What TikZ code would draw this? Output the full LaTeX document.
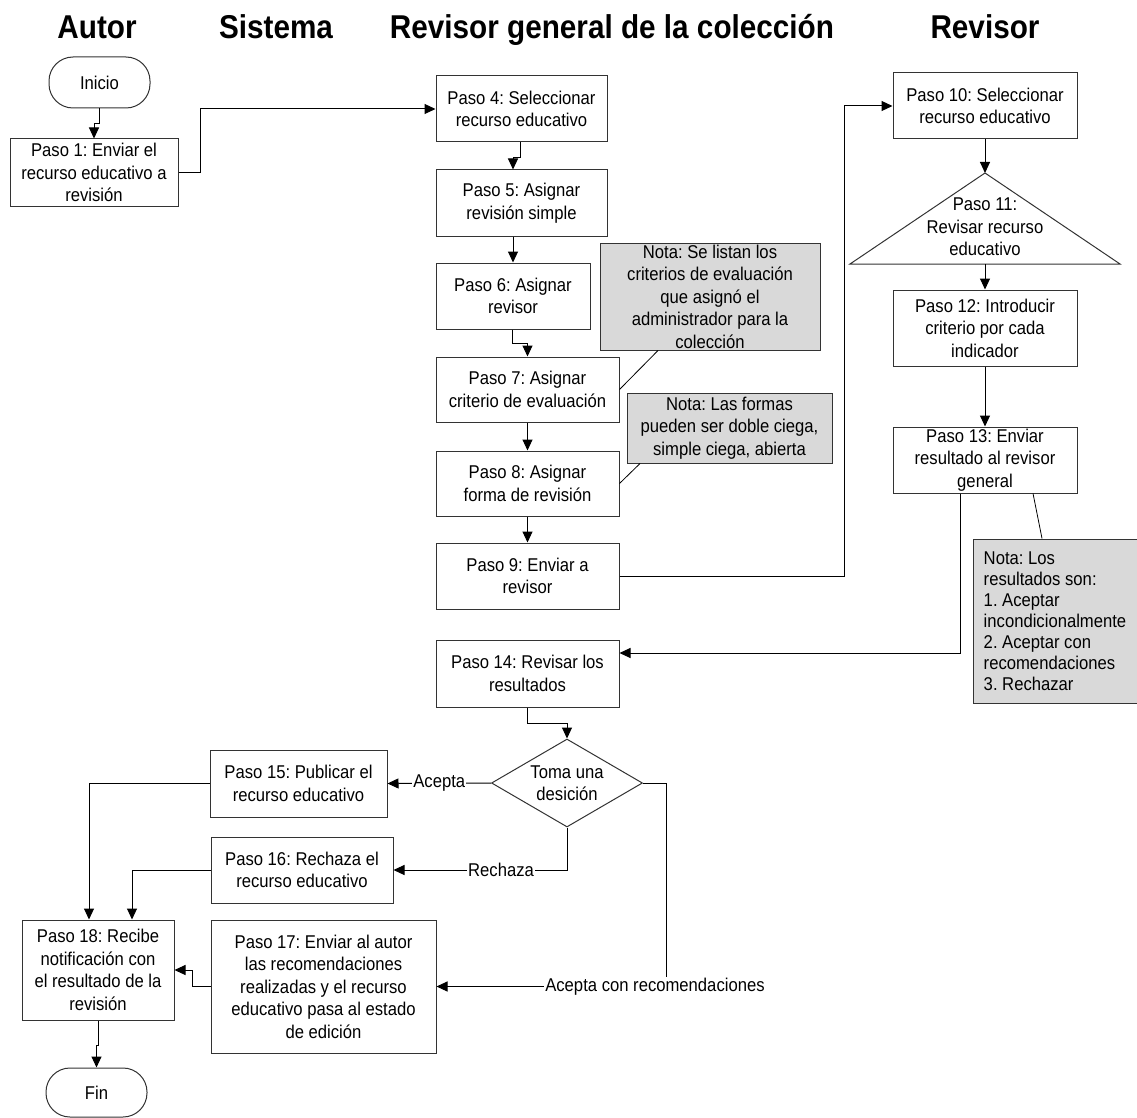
\documentclass[tikz,border=0pt]{standalone}
\usepackage{fontspec}
\newfontfamily\mybodyfam{Liberation Sans}[FakeStretch=0.9]
\newcommand\bxfont{\frenchspacing\mybodyfam\fontsize{18.5}{22.5}\selectfont}
\newcommand\ntfont{\frenchspacing\mybodyfam\fontsize{18.5}{21}\selectfont}
\newcommand\hdfont{\mybodyfam\bfseries\fontsize{33}{36}\selectfont}
\usetikzlibrary{arrows.meta,shapes.geometric,calc}
\frenchspacing
\begin{document}
\begin{tikzpicture}[x=1pt,y=-1pt,
  box/.style={draw=black!80,line width=1pt,align=center,inner sep=0pt,font=\bxfont,fill=white},
  nota/.style={box,fill=black!15},
  term/.style={box,rounded corners=24pt},
  hd/.style={font=\hdfont,inner sep=0pt,anchor=base},
  conn/.style={draw=black,line width=1pt,-{Triangle[length=11pt,width=10pt]}},
  link/.style={draw=black,line width=0.8pt},
  lbl/.style={font=\bxfont,fill=white,inner sep=1pt}]
\useasboundingbox (0,0) rectangle (1137,1118);

% headers
\node[hd] (hA) at (97,38.5) {Autor};
\node[hd] (hS) at (276,38.5) {Sistema};
\node[hd] (hG) at (612,38.5) {Revisor general de la colección};
\node[hd] (hR) at (985,38.5) {Revisor};

% Autor
\node[term,minimum width=101pt,minimum height=51pt] (inicio) at (99.5,82.5) {Inicio};
\node[box,minimum width=168pt,minimum height=67pt] (p1) at (94,172.5) {Paso 1: Enviar el\\recurso educativo a\\revisión};

% Revisor general
\node[box,minimum width=171pt,minimum height=66pt] (p4) at (521.5,109) {Paso 4: Seleccionar\\recurso educativo};
\node[box,minimum width=171pt,minimum height=66pt] (p5) at (521.5,203) {Paso 5: Asignar\\revisión simple};
\node[box,minimum width=154pt,minimum height=66pt] (p6) at (513,296) {Paso 6: Asignar\\revisor};
\node[box,minimum width=183pt,minimum height=65pt] (p7) at (527.5,389.5) {Paso 7: Asignar\\criterio de evaluación};
\node[box,minimum width=183pt,minimum height=65pt] (p8) at (527.5,483.5) {Paso 8: Asignar\\forma de revisión};
\node[box,minimum width=183pt,minimum height=66pt] (p9) at (527.5,576) {Paso 9: Enviar a\\revisor};
\node[nota,minimum width=220pt,minimum height=107pt] (n1) at (710,296.5) {Nota: Se listan los\\criterios de evaluación\\que asignó el\\administrador para la\\colección};
\node[nota,minimum width=205pt,minimum height=70pt] (n2) at (729.5,428) {Nota: Las formas\\pueden ser doble ciega,\\simple ciega, abierta};

% Revisor
\node[box,minimum width=184pt,minimum height=66pt] (p10) at (985,106) {Paso 10: Seleccionar\\recurso educativo};
\coordinate (t11top) at (985,173);
\coordinate (t11bot) at (985,264);
\draw[draw=black!80,line width=1pt] (t11top) -- (1120,264) -- (850,264) -- cycle;
\node[font=\bxfont,align=center,inner sep=0pt] (p11) at (985,227) {Paso 11:\\Revisar recurso\\educativo};
\node[box,minimum width=184pt,minimum height=76pt] (p12) at (985,328) {Paso 12: Introducir\\criterio por cada\\indicador};
\node[box,minimum width=184pt,minimum height=66pt] (p13) at (985,460) {Paso 13: Enviar\\resultado al revisor\\general};
\node[nota,align=left,font=\ntfont,minimum width=164pt,minimum height=164pt] (n3) at (1055,621) {Nota: Los\\resultados son:\\1. Aceptar\\incondicionalmente\\2. Aceptar con\\recomendaciones\\3. Rechazar};

% decision part
\node[box,minimum width=183pt,minimum height=67pt] (p14) at (527.5,673.5) {Paso 14: Revisar los\\resultados};
\node[box,shape=diamond,aspect=1.72,minimum width=151pt,minimum height=88pt] (dia) at (567,783) {Toma una\\desición};
\node[box,minimum width=177pt,minimum height=67pt] (p15) at (298.5,783.5) {Paso 15: Publicar el\\recurso educativo};
\node[box,minimum width=182pt,minimum height=66pt] (p16) at (302,870) {Paso 16: Rechaza el\\recurso educativo};
\node[box,minimum width=225pt,minimum height=133pt] (p17) at (323.5,986.5) {Paso 17: Enviar al autor\\las recomendaciones\\realizadas y el recurso\\educativo pasa al estado\\de edición};
\node[box,minimum width=152pt,minimum height=100pt] (p18) at (98,970) {Paso 18: Recibe\\notificación con\\el resultado de la\\revisión};
\node[term,minimum width=101pt,minimum height=49pt] (fin) at (96.5,1092.5) {Fin};

% connectors
\draw[conn] (inicio.south) -- ++(0,15) -| (p1.north);
\draw[conn] (p1.east) -- ++(22,0) |- (p4.west);
\draw[conn] ([xshift=-1.5pt]p4.south) -- ++(0,15) -| ([xshift=-8.5pt]p5.north);
\draw[conn] ([xshift=-8.5pt]p5.south) -- (p6.north);
\draw[conn] ([xshift=-1pt]p6.south) -- ++(0,14) -| (p7.north);
\draw[conn] (p7.south) -- (p8.north);
\draw[conn] (p8.south) -- (p9.north);
\draw[link] ([xshift=-52pt]n1.south) -- (p7.east);
\draw[link] ([xshift=-89.5pt]n2.south) -- (p8.east);
\draw[conn] (p9.east) -- ++(225,0) |- (p10.west);
\draw[conn] (p10.south) -- (t11top);
\draw[conn] (t11bot) -- (p12.north);
\draw[conn] (p12.south) -- (p13.north);
\draw[link] ([xshift=48pt]p13.south) -- ([xshift=-13pt]n3.north);
\draw[conn] ([xshift=-25pt]p13.south) |- ([yshift=20.5pt]p14.east);
\draw[conn] (p14.south) -- ++(0,16) -| (dia.north);
\draw[conn] (dia.west) -- node[lbl]{Acepta} (p15.east);
\draw[conn] (dia.south) |- node[lbl,pos=0.69]{Rechaza} (p16.east);
\draw[conn] (dia.east) -- ++(23,0) |- node[lbl,pos=0.524]{Acepta con recomendaciones} (p17.east);
\draw[conn] (p15.west) -| ([xshift=-9pt]p18.north);
\draw[conn] (p16.west) -| ([xshift=34pt]p18.north);
\draw[conn] (p17.west) -- ++(-18,0) |- (p18.east);
\draw[conn] (p18.south) -- ++(0,25) -| (fin.north);
\end{tikzpicture}
\end{document}
